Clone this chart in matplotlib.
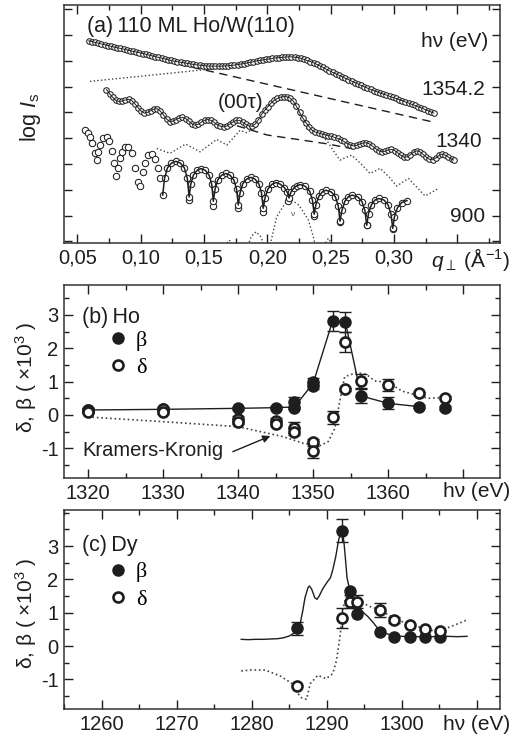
import matplotlib
matplotlib.use("Agg")
import matplotlib.pyplot as plt
from matplotlib.lines import Line2D
from matplotlib.ticker import MultipleLocator, FixedLocator, NullFormatter
import numpy as np

plt.rcParams["font.family"] = ["Liberation Sans", "DejaVu Sans"]
plt.rcParams["mathtext.fontset"] = "custom"
plt.rcParams["mathtext.rm"] = "Liberation Sans"
plt.rcParams["mathtext.it"] = "Liberation Sans:italic"
plt.rcParams["axes.unicode_minus"] = False

INK = "#1e1e1e"
DOT = "#444444"

# ---------------- (a) specular reflectivity, 110 ML Ho/W(110) ----------------
q_1354 = [0.0590, 0.0615, 0.0640, 0.0665, 0.0690, 0.0715, 0.0740, 0.0765, 0.0790, 0.0815,
          0.0840, 0.0865, 0.0890, 0.0915, 0.0940, 0.0965, 0.0990, 0.1015, 0.1040, 0.1065,
          0.1090, 0.1115, 0.1140, 0.1165, 0.1190, 0.1215, 0.1240, 0.1265, 0.1290, 0.1315,
          0.1340, 0.1365, 0.1390, 0.1415, 0.1440, 0.1465, 0.1490, 0.1515, 0.1540, 0.1565,
          0.1590, 0.1615, 0.1640, 0.1665, 0.1690, 0.1715, 0.1740, 0.1765, 0.1790, 0.1815,
          0.1840, 0.1865, 0.1890, 0.1915, 0.1940, 0.1965, 0.1990, 0.2015, 0.2040, 0.2065,
          0.2090, 0.2115, 0.2140, 0.2165, 0.2190, 0.2215, 0.2240, 0.2265, 0.2290, 0.2315,
          0.2340, 0.2365, 0.2390, 0.2415, 0.2440, 0.2465, 0.2490, 0.2515, 0.2540, 0.2565,
          0.2590, 0.2615, 0.2640, 0.2665, 0.2690, 0.2715, 0.2740, 0.2765, 0.2790, 0.2815,
          0.2840, 0.2865, 0.2890, 0.2915, 0.2940, 0.2965, 0.2990, 0.3015, 0.3040, 0.3065,
          0.3090, 0.3115, 0.3140, 0.3165, 0.3190, 0.3215, 0.3240, 0.3265, 0.3290, 0.3315]
logI_1354 = [7.77, 7.74, 7.71, 7.68, 7.65, 7.62, 7.59, 7.56, 7.53, 7.50,
             7.48, 7.45, 7.42, 7.39, 7.36, 7.34, 7.31, 7.28, 7.25, 7.22,
             7.19, 7.16, 7.13, 7.10, 7.07, 7.04, 7.01, 6.98, 6.96, 6.94,
             6.92, 6.90, 6.88, 6.86, 6.84, 6.83, 6.81, 6.80, 6.79, 6.79,
             6.79, 6.79, 6.79, 6.80, 6.80, 6.82, 6.83, 6.85, 6.87, 6.89,
             6.91, 6.94, 6.96, 6.99, 7.01, 7.03, 7.05, 7.07, 7.09, 7.11,
             7.12, 7.13, 7.14, 7.15, 7.15, 7.14, 7.12, 7.09, 7.05, 7.01,
             6.97, 6.92, 6.86, 6.80, 6.74, 6.67, 6.61, 6.55, 6.49, 6.44,
             6.38, 6.32, 6.27, 6.21, 6.15, 6.10, 6.04, 5.99, 5.94, 5.89,
             5.84, 5.80, 5.75, 5.71, 5.67, 5.62, 5.58, 5.54, 5.49, 5.45,
             5.40, 5.36, 5.31, 5.27, 5.22, 5.17, 5.12, 5.07, 5.02, 4.97]
q_1354_bg = [0.130, 0.333]
logI_1354_bg = [6.87, 4.60]
q_1354_part = [0.060, 0.100, 0.140, 0.165, 0.180, 0.200, 0.219, 0.235, 0.255,
               0.275, 0.295, 0.315, 0.333]
logI_1354_part = [6.20, 6.40, 6.60, 6.73, 6.84, 7.02, 7.13, 6.92, 6.44,
                  5.98, 5.60, 5.25, 4.85]

q_1340 = [0.0730, 0.0755, 0.0780, 0.0805, 0.0830, 0.0855, 0.0880, 0.0905, 0.0930, 0.0955,
          0.0980, 0.1005, 0.1030, 0.1055, 0.1080, 0.1105, 0.1130, 0.1155, 0.1180, 0.1205,
          0.1230, 0.1255, 0.1280, 0.1305, 0.1330, 0.1355, 0.1380, 0.1405, 0.1430, 0.1455,
          0.1480, 0.1505, 0.1530, 0.1555, 0.1580, 0.1605, 0.1630, 0.1655, 0.1680, 0.1705,
          0.1730, 0.1755, 0.1780, 0.1805, 0.1830, 0.1855, 0.1880, 0.1905, 0.1930, 0.1955,
          0.1980, 0.2005, 0.2030, 0.2055, 0.2080, 0.2105, 0.2130, 0.2155, 0.2180, 0.2205,
          0.2230, 0.2255, 0.2280, 0.2305, 0.2330, 0.2355, 0.2380, 0.2405, 0.2430, 0.2455,
          0.2480, 0.2505, 0.2530, 0.2555, 0.2580, 0.2605, 0.2630, 0.2655, 0.2680, 0.2705,
          0.2730, 0.2755, 0.2780, 0.2805, 0.2830, 0.2855, 0.2880, 0.2905, 0.2930, 0.2955,
          0.2980, 0.3005, 0.3030, 0.3055, 0.3080, 0.3105, 0.3130, 0.3155, 0.3180, 0.3205,
          0.3230, 0.3255, 0.3280, 0.3305, 0.3330, 0.3355, 0.3380, 0.3405, 0.3430, 0.3455,
          0.3470]
logI_1340 = [5.88, 5.72, 5.58, 5.46, 5.42, 5.44, 5.48, 5.50, 5.45, 5.33,
             5.18, 5.04, 4.97, 5.00, 5.07, 5.13, 5.14, 5.05, 4.90, 4.74,
             4.64, 4.66, 4.72, 4.78, 4.80, 4.76, 4.66, 4.55, 4.50, 4.54,
             4.62, 4.69, 4.72, 4.69, 4.61, 4.52, 4.46, 4.44, 4.47, 4.55,
             4.63, 4.69, 4.69, 4.62, 4.53, 4.47, 4.46, 4.55, 4.72, 4.92,
             5.08, 5.22, 5.36, 5.47, 5.54, 5.59, 5.61, 5.60, 5.55, 5.43,
             5.23, 5.00, 4.78, 4.60, 4.44, 4.30, 4.23, 4.20, 4.16, 4.13,
             4.10, 4.07, 4.03, 3.99, 3.94, 3.87, 3.79, 3.73, 3.70, 3.72,
             3.77, 3.81, 3.82, 3.78, 3.69, 3.59, 3.51, 3.47, 3.49, 3.54,
             3.56, 3.52, 3.43, 3.33, 3.26, 3.27, 3.36, 3.46, 3.51, 3.47,
             3.37, 3.26, 3.18, 3.16, 3.23, 3.33, 3.38, 3.34, 3.26, 3.18,
             3.15]
q_1340_bg = [0.176, 0.200, 0.228, 0.247, 0.268]
logI_1340_bg = [4.48, 4.12, 3.92, 3.78, 3.58]
q_1340_part = [0.1127, 0.1232, 0.1355, 0.1469, 0.1600, 0.1680, 0.1785, 0.1837,
               0.1916, 0.1969, 0.2050, 0.2130, 0.2210, 0.2311, 0.2400, 0.2469,
               0.2530, 0.2574, 0.2620, 0.2666, 0.2740, 0.2811, 0.2850, 0.2890,
               0.2960, 0.3022, 0.3070, 0.3114, 0.3180, 0.3245, 0.3300, 0.3350]
logI_1340_part = [3.60, 3.41, 3.77, 3.47, 3.95, 3.73, 4.30, 4.21,
                  4.44, 4.89, 5.40, 5.55, 5.30, 4.37, 4.15, 3.92,
                  3.45, 3.15, 3.25, 3.34, 3.00, 2.63, 2.72, 2.83,
                  2.50, 2.14, 2.30, 2.44, 2.10, 1.76, 1.90, 2.05]

q_900_obs = [0.0561, 0.0587, 0.0600, 0.0618, 0.0640, 0.0653, 0.0666, 0.0679,
             0.0705, 0.0732, 0.0753, 0.0776, 0.0792, 0.0806, 0.0824, 0.0837,
             0.0851, 0.0877, 0.0903, 0.0929, 0.0956, 0.0982, 0.0995, 0.1016,
             0.1035, 0.1061, 0.1087, 0.1113, 0.1140, 0.1153,
             0.1383, 0.1568, 0.1766, 0.1968, 0.2166, 0.2366, 0.2574, 0.2784, 0.2992]
logI_900_obs = [4.31, 4.18, 4.03, 3.82, 3.41, 3.15, 3.45, 3.73,
                3.99, 4.05, 3.90, 3.50, 3.05, 2.53, 2.83, 3.24,
                3.47, 3.64, 3.64, 3.43, 2.83, 2.31, 2.14, 2.67,
                3.02, 3.34, 3.37, 3.21, 2.83, 2.44,
                1.62, 1.37, 1.28, 1.15, 1.55, 1.00, 0.76, 0.63, 0.47]
q_900_fit = [0.1174, 0.1189, 0.1212, 0.1243, 0.1278, 0.1314, 0.1345, 0.1368, 0.1383,
             0.1396, 0.1417, 0.1446, 0.1476, 0.1511, 0.1540, 0.1561, 0.1574,
             0.1588, 0.1609, 0.1639, 0.1673, 0.1706, 0.1736, 0.1757, 0.1771,
             0.1785, 0.1806, 0.1836, 0.1870, 0.1903, 0.1933, 0.1954, 0.1968,
             0.1982, 0.2005, 0.2036, 0.2070, 0.2104, 0.2135, 0.2158, 0.2172,
             0.2186, 0.2208, 0.2235, 0.2262, 0.2300, 0.2334, 0.2356, 0.2370,
             0.2384, 0.2407, 0.2435, 0.2463, 0.2506, 0.2537, 0.2560, 0.2574,
             0.2589, 0.2612, 0.2640, 0.2670, 0.2715, 0.2747, 0.2770, 0.2785,
             0.2799, 0.2822, 0.2850, 0.2880, 0.2921, 0.2953, 0.2976, 0.2990,
             0.3004, 0.3027, 0.3060, 0.3103]
logI_900_fit = [1.79, 2.45, 2.85, 3.03, 3.10, 3.03, 2.85, 2.45, 1.72,
                2.22, 2.57, 2.75, 2.82, 2.75, 2.57, 2.22, 1.55,
                2.03, 2.38, 2.56, 2.63, 2.56, 2.38, 2.03, 1.41,
                1.88, 2.23, 2.41, 2.48, 2.41, 2.23, 1.88, 1.28,
                1.68, 2.03, 2.21, 2.28, 2.21, 2.08, 1.90, 1.68,
                1.90, 2.06, 2.16, 2.20, 2.13, 1.95, 1.60, 1.05,
                1.42, 1.75, 1.92, 1.98, 1.91, 1.73, 1.38, 0.78,
                1.20, 1.55, 1.73, 1.79, 1.72, 1.54, 1.20, 0.62,
                1.07, 1.42, 1.60, 1.66, 1.60, 1.42, 1.07, 0.50,
                0.95, 1.30, 1.50, 1.58]
q_900_part = [0.1650, 0.1700, 0.1750, None, 0.1837, 0.1875, 0.1911, 0.1945, 0.1990, None,
              0.2010, 0.2074, 0.2140, 0.2193, 0.2250, 0.2324, 0.2363, 0.2390, None,
              0.2430, 0.2482, 0.2530]
logI_900_part = [-0.30, 0.05, -0.30, None, -0.30, 0.20, 0.37, 0.20, -0.30, None,
                 -0.40, 0.95, 1.47, 1.60, 1.40, 0.83, 0.18, -0.40, None,
                 -0.30, 0.12, -0.30]

q_ticks = [0.05, 0.10, 0.15, 0.20, 0.25, 0.30, 0.35]
q_tick_labels = ["0,05", "0,10", "0,15", "0,20", "0,25", "0,30", ""]

# ---------------- (b) Ho optical constants ----------------
E_ho_beta = [1320, 1330, 1340, 1345, 1347.5, 1347.5, 1350, 1350, 1352.6, 1354.3,
             1356.4, 1360, 1364.1, 1367.6]
beta_ho = [0.15, 0.17, 0.20, 0.22, 0.22, 0.40, 0.88, 1.00, 2.83, 2.78,
           0.57, 0.35, 0.25, 0.21]
beta_ho_err = [0.05, 0.05, 0.05, 0.05, 0.05, 0.15, 0.1, 0.1, 0.30, 0.30,
               0.20, 0.18, 0.05, 0.05]
E_ho_delta = [1320, 1320, 1330, 1330, 1340, 1340, 1345, 1345, 1347.5, 1347.5,
              1350, 1350, 1352.6, 1354.3, 1354.3, 1356.4, 1360, 1364.1, 1367.6]
delta_ho = [0.15, 0.10, 0.18, 0.08, -0.12, -0.20, -0.18, -0.26, -0.38, -0.50,
            -0.82, -1.08, -0.07, 2.18, 0.77, 1.02, 0.90, 0.65, 0.52]
delta_ho_err = [0.05, 0.05, 0.05, 0.05, 0.08, 0.08, 0.08, 0.08, 0.17, 0.1,
                0.1, 0.2, 0.20, 0.30, 0.05, 0.20, 0.18, 0.05, 0.05]
E_ho_line = [1320, 1330, 1340, 1345, 1347.5, 1350, 1352.6, 1354.3, 1356.4, 1360, 1364.1]
beta_ho_line = [0.15, 0.17, 0.20, 0.22, 0.24, 0.95, 2.83, 2.78, 0.57, 0.35, 0.25]
E_ho_kk = [1320, 1330, 1340, 1344.0, 1346.0, 1348.7, 1350.9, 1352.0, 1352.9, 1353.5,
           1354.2, 1355.8, 1357.1, 1358.2, 1360.0, 1361.8, 1365.3, 1367.6]
delta_ho_kk = [-0.06, -0.20, -0.35, -0.55, -0.65, -0.85, -0.92, -0.80, -0.40, 0.36,
               1.15, 1.27, 1.22, 1.02, 0.98, 0.72, 0.50, 0.53]

# ---------------- (c) Dy optical constants ----------------
E_dy = [1286.0, 1292.1, 1293.1, 1294.0, 1297.1, 1299.0, 1301.1, 1303.1, 1305.1]
beta_dy = [0.53, 3.46, 1.65, 0.95, 0.43, 0.28, 0.28, 0.26, 0.26]
beta_dy_err = [0.20, 0.35, 0.0, 0.0, 0.0, 0.0, 0.0, 0.0, 0.0]
delta_dy = [-1.20, 0.83, 1.33, 1.33, 1.08, 0.78, 0.63, 0.51, 0.45]
delta_dy_err = [0.0, 0.30, 0.20, 0.20, 0.20, 0.10, 0.0, 0.0, 0.0]
E_dy_xas = [1278.6, 1279.5, 1280.5, 1281.5, 1282.5, 1283.5, 1284.3, 1285.0, 1285.6,
            1286.05, 1286.5, 1286.8, 1287.1, 1287.5, 1287.7, 1288.0, 1288.4, 1288.7,
            1289.0, 1289.5, 1290.1, 1290.5, 1290.8, 1291.2, 1291.6, 1291.9, 1292.1,
            1292.3, 1292.5, 1292.7, 1293.1, 1293.5, 1294.0, 1295.0, 1295.5, 1296.2,
            1296.8, 1297.5, 1298.1, 1299.0, 1300.0, 1302.0, 1304.0, 1306.0, 1307.5,
            1308.7]
beta_dy_xas = [0.20, 0.19, 0.20, 0.20, 0.21, 0.22, 0.25, 0.30, 0.38,
               0.53, 0.72, 1.05, 1.45, 1.75, 1.80, 1.70, 1.45, 1.40,
               1.50, 1.73, 1.93, 2.05, 2.28, 2.68, 3.20, 3.40, 3.46,
               3.10, 2.60, 2.05, 1.65, 1.45, 1.23, 0.98, 0.88, 0.70,
               0.53, 0.42, 0.36, 0.31, 0.29, 0.28, 0.28, 0.29, 0.28,
               0.29]
E_dy_kk = [1278.6, 1279.8, 1281.8, 1283.8, 1285.4, 1286.5, 1287.3, 1287.8, 1288.8,
           1289.9, 1290.8, 1291.3, 1291.8, 1292.1, 1292.6, 1294.0, 1295.8, 1297.1,
           1299.4, 1302.1, 1304.7, 1306.5, 1308.7]
delta_dy_kk = [-0.75, -0.72, -0.72, -0.90, -1.13, -1.54, -1.60, -1.13, -0.88,
               -0.98, -0.83, -0.43, 0.33, 1.08, 1.48, 1.38, 1.18, 1.08,
               0.78, 0.58, 0.43, 0.58, 0.78]


def frame(ax):
    ax.tick_params(which="both", direction="in", top=True, right=True,
                   colors=INK, labelsize=14.5, pad=4)
    ax.tick_params(which="major", length=6.5, width=1.0)
    ax.tick_params(which="minor", length=3.5, width=1.0)
    for sp in ax.spines.values():
        sp.set_linewidth(1.1)
        sp.set_color("#333333")


fig = plt.figure(figsize=(5.13, 7.43), dpi=100)
W, H = 513.0, 743.0
axa = fig.add_axes([64 / W, 1 - 243 / H, 436 / W, 238 / H])
axb = fig.add_axes([64 / W, 1 - 478 / H, 436 / W, 193 / H])
axc = fig.add_axes([64 / W, 1 - 709 / H, 436 / W, 199 / H])

# ---- panel (a)
ring = dict(ls="none", marker="o", mfc="white", mec=INK, mew=0.75, zorder=3)
axa.plot(q_1354_part, logI_1354_part, ls=":", color=DOT, lw=1.0, zorder=2)
axa.plot(q_1354_bg, logI_1354_bg, ls=(0, (6, 4)), color=INK, lw=1.0, zorder=2)
axa.plot(q_1354, logI_1354, ms=4.0, **ring)
axa.plot(q_1354, logI_1354, color=INK, lw=0.7, zorder=4)

axa.plot(q_1340_part, logI_1340_part, ls=":", color=DOT, lw=1.0, zorder=2)
axa.plot(q_1340_bg, logI_1340_bg, ls=(0, (6, 4)), color=INK, lw=1.0, zorder=2)
axa.plot(q_1340, logI_1340, ms=4.0, **ring)
axa.plot(q_1340, logI_1340, color=INK, lw=0.7, zorder=4)

qp = np.array([np.nan if v is None else v for v in q_900_part], dtype=float)
yp = np.array([np.nan if v is None else v for v in logI_900_part], dtype=float)
axa.plot(qp, yp, ls=":", color=DOT, lw=1.0, zorder=2)
axa.plot(q_900_obs, logI_900_obs, ms=4.6, **ring)
axa.plot(q_900_fit, logI_900_fit, ms=4.6, **ring)
axa.plot(q_900_fit, logI_900_fit, color=INK, lw=1.1, zorder=4)
axa.text(0.2195, 1.05, "\u03bd", fontsize=6, color=DOT, ha="center", va="center")

axa.set_xlim(0.0395, 0.3837)
axa.set_ylim(-0.065, 9.16)
axa.xaxis.set_major_locator(FixedLocator(q_ticks))
axa.set_xticklabels(q_tick_labels)
axa.xaxis.set_minor_locator(MultipleLocator(0.025))
axa.yaxis.set_major_locator(MultipleLocator(1))
axa.yaxis.set_major_formatter(NullFormatter())
frame(axa)
axa.tick_params(axis="y", which="major", length=6)
axa.set_ylabel("log $I_\\mathrm{s}$", fontsize=15.5, color=INK)
axa.yaxis.set_label_coords(-0.048, 0.53)
axa.text(0.053, 0.908, "(a)\u2009110 ML Ho/W(110)", transform=axa.transAxes,
         fontsize=15.5, color=INK, va="center", ha="left")
axa.text(0.972, 0.845, "h\u03bd (eV)", transform=axa.transAxes, fontsize=15,
         color=INK, va="center", ha="right")
axa.text(0.965, 0.647, "1354.2", transform=axa.transAxes, fontsize=15,
         color=INK, va="center", ha="right")
axa.text(0.958, 0.426, "1340", transform=axa.transAxes, fontsize=15,
         color=INK, va="center", ha="right")
axa.text(0.965, 0.110, "900", transform=axa.transAxes, fontsize=15,
         color=INK, va="center", ha="right")
axa.text(0.353, 0.592, "(00\u03c4)", transform=axa.transAxes, fontsize=15,
         color=INK, va="center", ha="left")
axa.text(1.023, -0.071, "$q_{\\perp}$ (Å$^{-1}$)", transform=axa.transAxes,
         fontsize=15, color=INK, va="center", ha="right")


def optical(ax, E_b, b, b_err, E_d, d, d_err):
    E_b, b, b_err = map(np.asarray, (E_b, b, b_err))
    E_d, d, d_err = map(np.asarray, (E_d, d, d_err))
    mb = b_err > 0
    md = d_err > 0
    eb = dict(fmt="none", ecolor=INK, elinewidth=1.0, capsize=4.5, capthick=1.0)
    ax.errorbar(E_b[mb], b[mb], yerr=b_err[mb], zorder=3, **eb)
    ax.errorbar(E_d[md], d[md], yerr=d_err[md], zorder=5, **eb)
    ax.plot(E_b, b, ls="none", marker="o", ms=8, mfc=INK, mec=INK, zorder=4)
    ax.plot(E_d, d, ls="none", marker="o", ms=7.2, mfc="white", mec=INK,
            mew=1.9, zorder=6)


def optical_frame(ax, x0, x1, y1):
    ax.set_xlim(x0, x1)
    ax.set_ylim(-1.89, y1)
    ax.xaxis.set_major_locator(MultipleLocator(10))
    ax.xaxis.set_minor_locator(MultipleLocator(5))
    ax.yaxis.set_major_locator(FixedLocator([-1, 0, 1, 2, 3]))
    ax.yaxis.set_minor_locator(MultipleLocator(0.5))
    frame(ax)
    ax.set_ylabel("\u03b4, \u03b2 ( \u00d710$^{3}$ )", fontsize=15, color=INK)
    handles = [Line2D([], [], ls="none", marker="o", ms=8, mfc=INK, mec=INK),
               Line2D([], [], ls="none", marker="o", ms=7.2, mfc="white",
                      mec=INK, mew=1.9)]
    return handles


legend_kw = dict(loc="upper left", frameon=False, borderpad=0, borderaxespad=0,
                 handlelength=1.0, handletextpad=0.3, labelspacing=0.3,
                 prop={"family": "Liberation Serif", "size": 16})

# ---- panel (b)
axb.plot(E_ho_kk, delta_ho_kk, ls=":", color=DOT, lw=1.2, zorder=2)
axb.plot(E_ho_line, beta_ho_line, color=INK, lw=1.0, zorder=2)
optical(axb, E_ho_beta, beta_ho, beta_ho_err, E_ho_delta, delta_ho, delta_ho_err)
hb = optical_frame(axb, 1316.8, 1374.9, 3.9)
axb.set_xticks([1320, 1330, 1340, 1350, 1360, 1370])
axb.set_xticklabels(["1320", "1330", "1340", "1350", "1360", ""])
axb.yaxis.set_label_coords(-0.058, 0.523)
axb.text(0.041, 0.834, "(b)\u2009Ho", transform=axb.transAxes, fontsize=15.5,
         color=INK, va="center", ha="left")
axb.legend(hb, ["\u03b2", "\u03b4"], bbox_to_anchor=(0.099, 0.765), **legend_kw)
axb.text(1319.2, -1.05, "Kramers-Kronig", fontsize=14.5, color=INK,
         va="center", ha="left")
axb.annotate("", xy=(1344.3, -0.63), xytext=(1339.3, -1.10),
             arrowprops=dict(arrowstyle="-|>", color=INK, lw=1.0,
                             mutation_scale=11, shrinkA=0, shrinkB=0))
axb.text(1.023, -0.0725, "h\u03bd (eV)", transform=axb.transAxes, fontsize=15,
         color=INK, va="center", ha="right")

# ---- panel (c)
axc.plot(E_dy_kk, delta_dy_kk, ls=":", color=DOT, lw=1.2, zorder=2)
axc.plot(E_dy_xas, beta_dy_xas, color=INK, lw=1.0, zorder=2)
optical(axc, E_dy, beta_dy, beta_dy_err, E_dy, delta_dy, delta_dy_err)
hc = optical_frame(axc, 1254.97, 1313.1, 4.08)
axc.set_xticks([1260, 1270, 1280, 1290, 1300, 1310])
axc.set_xticklabels(["1260", "1270", "1280", "1290", "1300", ""])
axc.yaxis.set_label_coords(-0.058, 0.482)
axc.text(0.041, 0.824, "(c)\u2009Dy", transform=axc.transAxes, fontsize=15.5,
         color=INK, va="center", ha="left")
axc.legend(hc, ["\u03b2", "\u03b4"], bbox_to_anchor=(0.099, 0.739), **legend_kw)
axc.text(1.023, -0.080, "h\u03bd (eV)", transform=axc.transAxes, fontsize=15,
         color=INK, va="center", ha="right")

fig.savefig("out.png", dpi=100)
